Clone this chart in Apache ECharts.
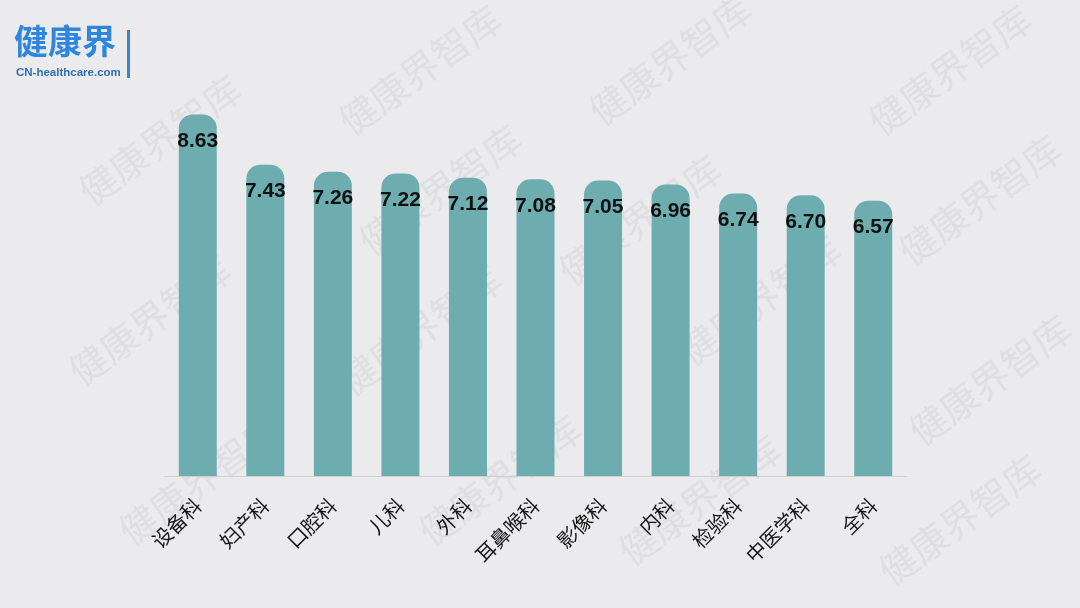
<!DOCTYPE html>
<html><head><meta charset="utf-8">
<script src="https://cdn.jsdelivr.net/npm/echarts@6/dist/echarts.min.js"></script>
<style>html,body{margin:0;padding:0;background:#ebebed}#c{width:1080px;height:608px}</style>
</head><body><div id="c"></div>
<script>
const categories = ['设备科','妇产科','口腔科','儿科','外科','耳鼻喉科','影像科','内科','检验科','中医学科','全科'];
const values = [8.63, 7.43, 7.26, 7.22, 7.12, 7.08, 7.05, 6.96, 6.74, 6.70, 6.57];
const watermarkText = '健康界智库';
const watermarkSpots = [[420,70],[670,60],[950,70],[160,140],[440,190],[640,220],[980,200],[150,320],[420,330],[760,300],[990,380],[200,480],[500,480],[700,500],[960,520]];

const chart = echarts.init(document.getElementById('c'));
const graphics = watermarkSpots.map(p => ({
  type:'text', x:p[0], y:p[1], rotation: Math.PI/5, z:0,
  style:{text:watermarkText, font:'38px "Noto Sans CJK SC"', fill:'rgba(140,140,140,0.12)', textAlign:'center', textVerticalAlign:'middle'}
}));
graphics.push(
  {type:'text', left:14, top:24, z:10, style:{text:'健康界', font:'bold 34px "Noto Sans CJK SC"', fill:'#2f86dd'}},
  {type:'text', left:16, top:67, z:10, style:{text:'CN-healthcare.com', font:'bold 11.5px "Liberation Sans"', fill:'#2f70b8'}},
  {type:'rect', left:127, top:30, z:10, shape:{width:3, height:48}, style:{fill:'#3a86d0'}}
);
chart.setOption({
  backgroundColor:'#ebebed',
  animation:false,
  graphic: graphics,
  grid:{left:164, width:743, top:57, bottom:132},
  xAxis:{type:'category', data:categories,
    axisLine:{lineStyle:{color:'#d0d0d0', width:1}}, axisTick:{show:false},
    axisLabel:{rotate:45, color:'#151515', fontSize:20, margin:26, fontFamily:'"Noto Sans CJK SC"', interval:0}},
  yAxis:{type:'value', min:0, max:10, show:false, splitLine:{show:false}},
  series:[{type:'bar', data:values, barWidth:38,
    itemStyle:{color:'#6dadb0', borderRadius:[14,14,0,0]},
    label:{show:true, position:'insideTop', distance:16, color:'#111', fontSize:21, fontWeight:'bold', fontFamily:'"Liberation Sans"', formatter: p => p.value.toFixed(2)}
  }]
});
</script></body></html>
